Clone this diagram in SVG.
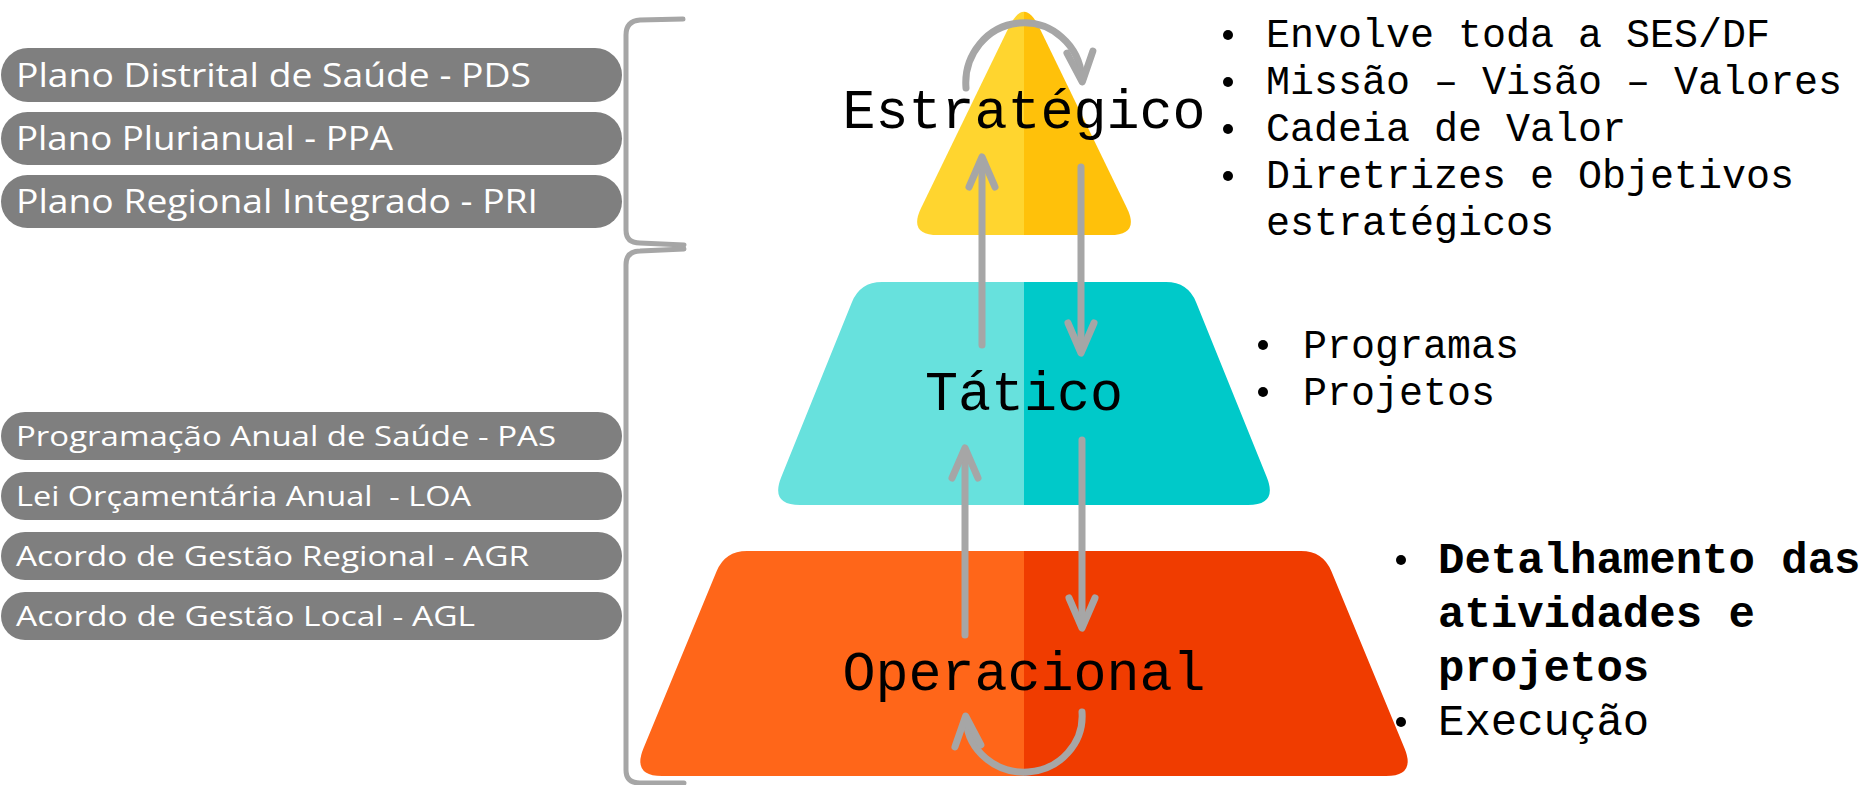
<svg xmlns="http://www.w3.org/2000/svg" width="1868" height="785" viewBox="0 0 1868 785">
<style>
.pill{fill:#7F7F7F}
.ptxt{fill:#FFFFFF;font-family:"Open Sans","Liberation Sans",sans-serif}
.up{font-size:32px}
.lo{font-size:28px}
.lvl{font-family:"Liberation Mono","Courier New",monospace;font-size:55px;fill:#000;text-anchor:middle}
.bul{font-family:"Liberation Mono","Courier New",monospace;font-size:40px;fill:#000}
.bul3{font-family:"Liberation Mono","Courier New",monospace;font-size:44px;fill:#000}
.dot{fill:#000}
.br{fill:none;stroke:#A6A6A6;stroke-width:5;stroke-linecap:round;stroke-linejoin:round}
.ar{fill:none;stroke:#A6A6A6;stroke-width:7;stroke-linecap:round}
</style>
<defs>
<marker id="chev" markerUnits="userSpaceOnUse" viewBox="-36 -18 42 36" markerWidth="42" markerHeight="36" refX="-4" refY="0" orient="auto">
<path d="M -30 -13 L 0 0 L -30 13" fill="none" stroke="#A6A6A6" stroke-width="7" stroke-linecap="round" stroke-linejoin="round"/>
</marker>
<clipPath id="leftHalf"><rect x="0" y="0" width="1024" height="785"/></clipPath>
<clipPath id="rightHalf"><rect x="1024" y="0" width="844" height="785"/></clipPath>
<path id="triShape" d="M 1008.7 27.5 Q 1024 -4 1039.3 27.5 L 1126.9 208 Q 1140 235 1110 235 L 938 235 Q 908 235 921.1 208 Z"/>
<path id="tatShape" d="M 882 282 L 1166 282 Q 1188 282 1196.2 302.4 L 1266.8 477.2 Q 1278 505 1248 505 L 800 505 Q 770 505 781.2 477.2 L 851.8 302.4 Q 860 282 882 282 Z"/>
<path id="opShape" d="M 747 551 L 1301 551 Q 1323 551 1331.4 571.3 L 1404.5 748.3 Q 1416 776 1386 776 L 662 776 Q 632 776 643.5 748.3 L 716.6 571.3 Q 725 551 747 551 Z"/>
</defs>
<rect x="0" y="0" width="1868" height="785" fill="#FFFFFF"/>

<g id="pill-pds"><rect class="pill" x="1" y="48" width="621" height="54" rx="27"/><text class="ptxt up" x="16" y="87" textLength="515" lengthAdjust="spacingAndGlyphs">Plano Distrital de Saúde - PDS</text></g>
<g id="pill-ppa"><rect class="pill" x="1" y="112" width="621" height="53" rx="26.5"/><text class="ptxt up" x="16" y="150" textLength="377" lengthAdjust="spacingAndGlyphs">Plano Plurianual - PPA</text></g>
<g id="pill-pri"><rect class="pill" x="1" y="175" width="621" height="53" rx="26.5"/><text class="ptxt up" x="16" y="213" textLength="522" lengthAdjust="spacingAndGlyphs">Plano Regional Integrado - PRI</text></g>

<g id="pill-pas"><rect class="pill" x="1" y="412" width="621" height="48" rx="24"/><text class="ptxt lo" x="16" y="446" textLength="540" lengthAdjust="spacingAndGlyphs">Programação Anual de Saúde - PAS</text></g>
<g id="pill-loa"><rect class="pill" x="1" y="472" width="621" height="48" rx="24"/><text class="ptxt lo" x="16" y="506" textLength="455" lengthAdjust="spacingAndGlyphs" xml:space="preserve" style="white-space:pre">Lei Orçamentária Anual  - LOA</text></g>
<g id="pill-agr"><rect class="pill" x="1" y="532" width="621" height="48" rx="24"/><text class="ptxt lo" x="16" y="566" textLength="513" lengthAdjust="spacingAndGlyphs">Acordo de Gestão Regional - AGR</text></g>
<g id="pill-agl"><rect class="pill" x="1" y="592" width="621" height="48" rx="24"/><text class="ptxt lo" x="16" y="626" textLength="459" lengthAdjust="spacingAndGlyphs">Acordo de Gestão Local - AGL</text></g>

<g id="brackets">
<path class="br" d="M 683 19 L 640 20 Q 626 21 626 35 L 626 230 Q 626 243 640 243 L 684 245"/>
<path class="br" d="M 684 249 L 640 251 Q 626 251 626 265 L 626 770 Q 626 783 640 783 L 684 783"/>
</g>

<g id="level-estrategico">
<use href="#triShape" fill="#FFD52F" clip-path="url(#leftHalf)"/>
<use href="#triShape" fill="#FFC10A" clip-path="url(#rightHalf)"/>
<text class="lvl" x="1024" y="128">Estratégico</text>
</g>
<g id="level-tatico">
<use href="#tatShape" fill="#67E1DD" clip-path="url(#leftHalf)"/>
<use href="#tatShape" fill="#00C9C9" clip-path="url(#rightHalf)"/>
<text class="lvl" x="1024" y="410">Tático</text>
</g>
<g id="level-operacional">
<use href="#opShape" fill="#FF6619" clip-path="url(#leftHalf)"/>
<use href="#opShape" fill="#F03C00" clip-path="url(#rightHalf)"/>
<text class="lvl" x="1024" y="690">Operacional</text>
</g>

<g id="connectors">
<path class="ar" d="M 982 345 L 982 161" marker-end="url(#chev)"/>
<path class="ar" d="M 1081 167 L 1081 349" marker-end="url(#chev)"/>
<path class="ar" d="M 965 635 L 965 452" marker-end="url(#chev)"/>
<path class="ar" d="M 1082 440 L 1082 624" marker-end="url(#chev)"/>
<path class="ar" d="M 966 88 A 58 60 0 0 1 1082 78" marker-end="url(#chev)"/>
<path class="ar" d="M 1082 712 A 58 56 0 0 1 966 720" marker-end="url(#chev)"/>
</g>

<g id="notes-estrategico">
<circle class="dot" cx="1228" cy="35" r="5"/><text class="bul" x="1266" y="47">Envolve toda a SES/DF</text>
<circle class="dot" cx="1228" cy="82" r="5"/><text class="bul" x="1266" y="94">Missão – Visão – Valores</text>
<circle class="dot" cx="1228" cy="129" r="5"/><text class="bul" x="1266" y="141">Cadeia de Valor</text>
<circle class="dot" cx="1228" cy="176" r="5"/><text class="bul" x="1266" y="188">Diretrizes e Objetivos</text>
<text class="bul" x="1266" y="235">estratégicos</text>
</g>
<g id="notes-tatico">
<circle class="dot" cx="1263" cy="345" r="5"/><text class="bul" x="1303" y="358">Programas</text>
<circle class="dot" cx="1263" cy="392" r="5"/><text class="bul" x="1303" y="405">Projetos</text>
</g>
<g id="notes-operacional">
<circle class="dot" cx="1401" cy="560" r="5"/><text class="bul3" x="1438" y="573" font-weight="bold">Detalhamento das</text>
<text class="bul3" x="1438" y="627" font-weight="bold">atividades e</text>
<text class="bul3" x="1438" y="681" font-weight="bold">projetos</text>
<circle class="dot" cx="1401" cy="722" r="5"/><text class="bul3" x="1438" y="735">Execução</text>
</g>
</svg>
